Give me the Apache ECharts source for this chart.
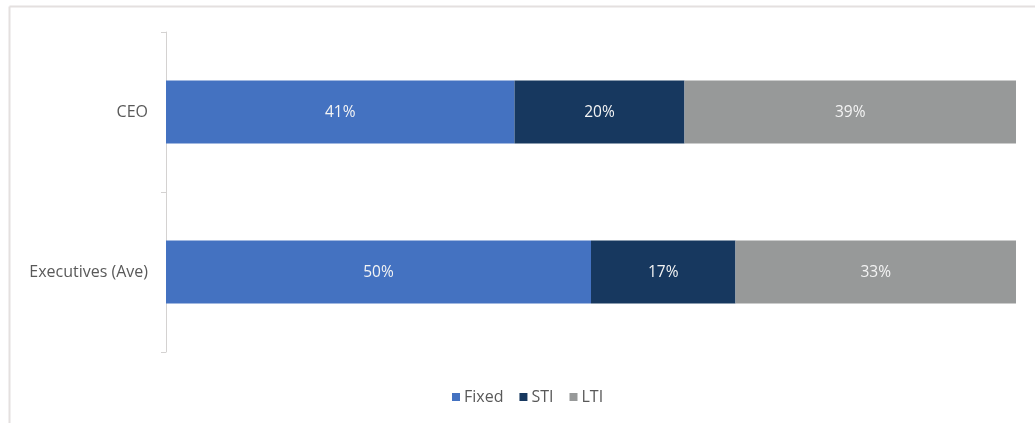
<!DOCTYPE html>
<html>
<head>
<meta charset="utf-8">
<script src="https://cdn.jsdelivr.net/npm/echarts@6/dist/echarts.min.js"></script>
<style>
  html, body { margin: 0; padding: 0; background: #ffffff; }
  #chart { width: 1035px; height: 423px; }
</style>
</head>
<body>
<div id="chart"></div>
<script>
// Pay mix by role, as a share of total remuneration (%)
const categories = ['CEO', 'Executives (Ave)'];
const fixed = [41, 50];
const sti = [20, 17];
const lti = [39, 33];
const seriesNames = ['Fixed', 'STI', 'LTI'];
const seriesColors = ['#4472C1', '#17385F', '#979999'];

const FONT = '"Open Sans", "Noto Sans", sans-serif';

const chart = echarts.init(document.getElementById('chart'), null, { renderer: 'canvas' });

const makeSeries = (name, values, color) => ({
  name: name,
  type: 'bar',
  stack: 'mix',
  data: values,
  barWidth: 63,
  itemStyle: { color: color },
  label: {
    show: true,
    position: 'inside',
    formatter: '{c}%',
    color: '#f4f4f4',
    fontFamily: FONT,
    fontSize: 15.5,
    offset: [0, 1]
  },
  emphasis: { disabled: true }
});

chart.setOption({
  animation: false,
  backgroundColor: '#ffffff',
  graphic: [
    { type: 'line', shape: { x1: 9.5, y1: 6.5, x2: 1035, y2: 6.5 }, style: { stroke: '#e4e0df', lineWidth: 2 } },
    { type: 'line', shape: { x1: 9.5, y1: 6.5, x2: 9.5, y2: 423 }, style: { stroke: '#e4e0df', lineWidth: 2 } }
  ],
  grid: { left: 166, right: 19, top: 32, bottom: 71 },
  legend: {
    data: seriesNames,
    top: 384,
    left: 447,
    itemWidth: 8,
    itemHeight: 8,
    itemGap: 16,
    icon: 'rect',
    textStyle: { color: '#595959', fontFamily: FONT, fontSize: 16, padding: [0, 0, 0, -1] }
  },
  xAxis: {
    type: 'value',
    min: 0,
    max: 100,
    show: false
  },
  yAxis: {
    type: 'category',
    data: categories,
    inverse: true,
    axisLine: { lineStyle: { color: '#d4d2d1', width: 1 } },
    axisTick: { show: true, length: 5, lineStyle: { color: '#d4d2d1' } },
    axisLabel: { color: '#595959', fontFamily: FONT, fontSize: 16, margin: 18 },
    splitLine: { show: false }
  },
  series: [
    makeSeries(seriesNames[0], fixed, seriesColors[0]),
    makeSeries(seriesNames[1], sti, seriesColors[1]),
    makeSeries(seriesNames[2], lti, seriesColors[2])
  ]
});
</script>
</body>
</html>
